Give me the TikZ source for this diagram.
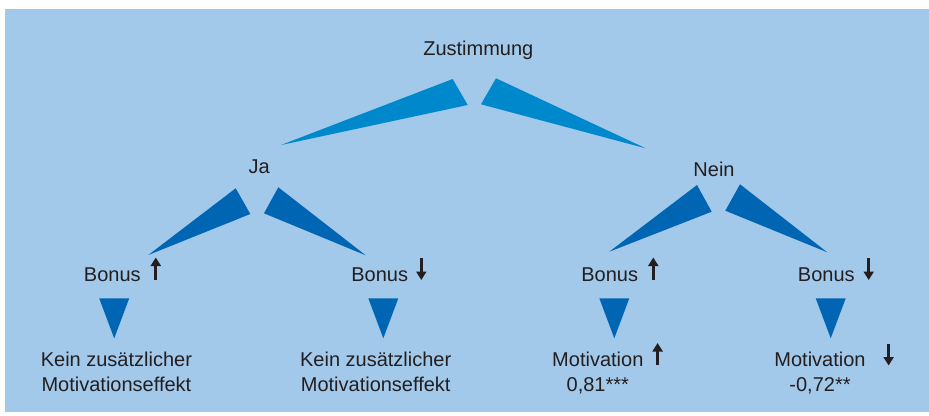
\documentclass[tikz,border=0pt]{standalone}
\usepackage{fontspec}
\setmainfont{Liberation Sans}
\usetikzlibrary{arrows.meta}
\definecolor{panel}{HTML}{A2C8EA}
\definecolor{wedgetop}{HTML}{0088CC}
\definecolor{wedgelow}{HTML}{0066B3}
\definecolor{ink}{HTML}{231F20}
\begin{document}
\begin{tikzpicture}[x=1pt,y=-1pt,
  lbl/.style={anchor=base,inner sep=0pt,text=ink,font=\fontsize{20}{25.5}\selectfont,align=center},
  upwedge/.style={fill=wedgetop},
  lowwedge/.style={fill=wedgelow},
  trend/.style={draw=ink,line width=2.8pt,-{Triangle[length=8.5pt,width=10pt]}}]
\useasboundingbox (0,0) rectangle (929,415);
\fill[panel] (5,9) rectangle (929,412);

% labels (two-line labels sit on their last baseline)
\node[lbl] (root) at (478.3,55.7) {Zustimmung};
\node[lbl] (ja)   at (259.3,173.3) {Ja};
\node[lbl] (nein) at (714,176.7) {Nein};
\node[lbl] (b1) at (112.3,281) {Bonus};
\node[lbl] (b2) at (379.7,281) {Bonus};
\node[lbl] (b3) at (609.7,281) {Bonus};
\node[lbl] (b4) at (826.3,281) {Bonus};
\node[lbl] (r1) at (116.4,391.5) {Kein zusätzlicher\\Motivationseffekt};
\node[lbl] (r2) at (375.7,391.5) {Kein zusätzlicher\\Motivationseffekt};
\node[lbl] (r3) at (597.8,391.5) {Motivation\\0,81***};
\node[lbl] (r4) at (820,391.5) {Motivation\\-0,72**};

% trend arrows beside the labels
\coordinate (a1s) at (155.8,279.5); \coordinate (a1e) at (155.8,257.5);
\coordinate (a2s) at (421.3,258);   \coordinate (a2e) at (421.3,280);
\coordinate (a3s) at (653.3,279.5); \coordinate (a3e) at (653.3,257.5);
\coordinate (a4s) at (868.7,258);   \coordinate (a4e) at (868.7,280);
\coordinate (a5s) at (657.6,365);   \coordinate (a5e) at (657.6,343);
\coordinate (a6s) at (888.6,343.5); \coordinate (a6e) at (888.6,365.5);
\foreach \s/\e in {a1s/a1e,a2s/a2e,a3s/a3e,a4s/a4e,a5s/a5e,a6s/a6e}
  \draw[trend] (\s) -- (\e);

% first split
\fill[upwedge] (281,145) -- (452.7,79) -- (467.7,105) -- cycle;
\fill[upwedge] (496,78.3) -- (481,104.3) -- (645.7,148.3) -- cycle;

% second split
\fill[lowwedge] (148.3,255) -- (235.7,188.3) -- (250.3,214) -- cycle;
\fill[lowwedge] (278.3,187.3) -- (264,213.3) -- (365.7,255.3) -- cycle;
\fill[lowwedge] (609.3,251.7) -- (697,185) -- (711.7,211.7) -- cycle;
\fill[lowwedge] (740,184.3) -- (725.3,210.7) -- (827.3,252.3) -- cycle;

% outcome wedges
\foreach \cx in {114.2,383.3,614.3,830.7}
  \fill[lowwedge] (\cx-15,298.3) -- (\cx+15,298.3) -- (\cx,338.3) -- cycle;
\end{tikzpicture}
\end{document}
